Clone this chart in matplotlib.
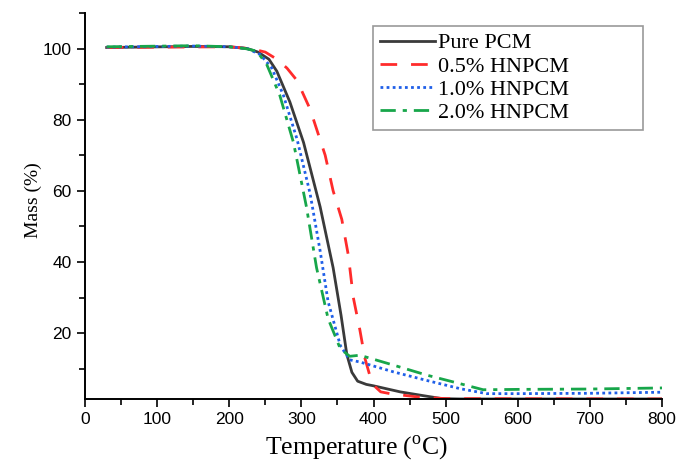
import matplotlib
matplotlib.use("Agg")
import matplotlib.pyplot as plt
from matplotlib.ticker import MultipleLocator

plt.rcParams['mathtext.fontset'] = 'custom'
plt.rcParams['mathtext.rm'] = 'Liberation Serif'

# temperature (oC) / mass (%)
t_pure = [30, 150, 200, 225, 240, 255, 266, 284, 303, 326, 344, 355, 363, 370, 378, 390, 400, 437, 470, 495, 520, 800]
m_pure = [100.3, 100.6, 100.5, 100.0, 99.0, 97.0, 93.6, 85.0, 73.6, 55.5, 38.4, 25.0, 14.0, 9.0, 6.5, 5.6, 5.2, 3.5, 2.4, 1.6, 1.5, 1.5]

t_05 = [30, 200, 230, 250, 266, 280, 294, 312, 333, 344, 356, 365, 372, 381, 388, 395, 402, 410, 423, 460, 500, 800]
m_05 = [100.3, 100.5, 100.0, 99.0, 97.0, 94.5, 91.0, 83.0, 70.0, 60.0, 52.0, 42.0, 30.0, 21.0, 13.0, 8.0, 5.0, 3.5, 3.0, 2.1, 1.6, 1.5]

t_10 = [30, 150, 200, 225, 243, 259, 275, 294, 312, 326, 337, 354, 367, 381, 428, 474, 520, 557, 600, 700, 800]
m_10 = [100.4, 100.7, 100.5, 100.0, 98.3, 94.5, 86.9, 74.5, 59.3, 43.1, 28.9, 16.5, 12.5, 11.9, 9.1, 6.7, 4.4, 3.0, 3.0, 3.1, 3.4]

t_20 = [30, 150, 200, 222, 238, 252, 270, 289, 307, 321, 337, 354, 367, 381, 428, 474, 520, 552, 600, 700, 800]
m_20 = [100.5, 100.8, 100.5, 100.0, 99.3, 95.5, 86.9, 73.6, 55.5, 38.4, 24.1, 15.6, 13.5, 13.8, 11.0, 8.2, 5.8, 4.1, 4.2, 4.3, 4.6]

fig = plt.figure(figsize=(6.79, 4.62), dpi=100)
ax = fig.add_axes([0.1252, 0.1364, 0.8498, 0.8355])

ax.plot(t_pure, m_pure, color='#3a3a3a', lw=2.0, label='Pure PCM')
ax.plot(t_05, m_05, color='#ff2b2b', lw=2.0, dashes=(6, 5), label='0.5% HNPCM')
ax.plot(t_10, m_10, color='#1f5fe8', lw=2.0, dashes=(1, 1.2), label='1.0% HNPCM')
ax.plot(t_20, m_20, color='#17a64a', lw=2.0, dashes=(5.5, 2.5, 1.5, 2.5), label='2.0% HNPCM')

ax.set_xlim(0, 800)
ax.set_ylim(1.5, 110)
ax.xaxis.set_major_locator(MultipleLocator(100))
ax.xaxis.set_minor_locator(MultipleLocator(50))
ax.set_yticks([20, 40, 60, 80, 100])
ax.yaxis.set_minor_locator(MultipleLocator(10))
ax.tick_params(which='both', direction='out', width=1.2)
ax.tick_params(which='major', length=6, labelsize=12.5)
ax.tick_params(which='minor', length=4)
for lab in ax.get_xticklabels() + ax.get_yticklabels():
    lab.set_family('Liberation Sans')
ax.spines['top'].set_visible(False)
ax.spines['right'].set_visible(False)
ax.spines['left'].set_linewidth(1.4)
ax.spines['bottom'].set_linewidth(1.4)

ax.set_xlabel('Temperature ($^{\\mathrm{o}}$C)', family='Liberation Serif', fontsize=18.5)
ax.xaxis.set_label_coords(0.471, -0.088)
ax.set_ylabel('Mass (%)', family='Liberation Serif', fontsize=14)
ax.yaxis.set_label_coords(-0.075, 0.515)

leg = ax.legend(loc='upper left', bbox_to_anchor=(0.499, 0.5, 0.468, 0.466), mode='expand',
                prop={'family': 'Liberation Serif', 'size': 16},
                frameon=True, fancybox=False, edgecolor='#999999', framealpha=1,
                handlelength=2.5, handletextpad=0.15, labelspacing=0.12, borderpad=0.3, borderaxespad=0)
leg.get_frame().set_linewidth(1.2)

fig.savefig('out.png', dpi=100)
